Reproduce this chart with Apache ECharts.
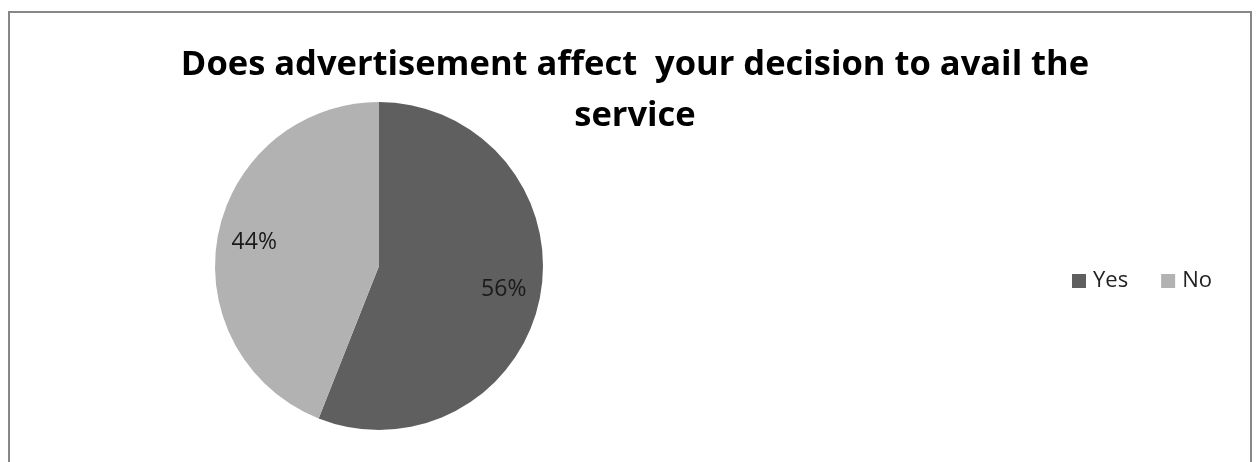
<!DOCTYPE html>
<html>
<head>
<meta charset="utf-8">
<script src="https://cdn.jsdelivr.net/npm/echarts@6/dist/echarts.min.js"></script>
<style>
  html, body { margin: 0; padding: 0; background: #ffffff; }
  #wrap { position: relative; width: 1256px; height: 462px; overflow: hidden; }
  #frame { position: absolute; left: 8px; top: 11px; width: 1244px; height: 470px;
           border: 2px solid #878787; box-sizing: border-box; }
  #chart { position: absolute; left: 0; top: 0; width: 1256px; height: 462px; }
</style>
</head>
<body>
<div id="wrap">
  <div id="frame"></div>
  <div id="chart"></div>
</div>
<script>
// Survey answers and their shares (percent)
const titleLines = ['Does advertisement affect  your decision to avail the', 'service'];
const categories = ['Yes', 'No'];
const shares = [56, 44];
const sliceColors = ['#5f5f5f', '#b2b2b2'];

const pieData = categories.map((name, i) => ({ name: name, value: shares[i] }));

const chart = echarts.init(document.getElementById('chart'), null, { renderer: 'canvas' });

chart.setOption({
  animation: false,
  color: sliceColors,
  title: {
    text: titleLines.join('\n'),
    left: 630,
    textAlign: 'center',
    top: 35,
    textStyle: {
      fontFamily: 'Open Sans',
      fontWeight: 'bold',
      fontSize: 34.5,
      lineHeight: 51,
      color: '#000000'
    }
  },
  legend: {
    data: categories,
    orient: 'horizontal',
    left: 1072,
    top: 270,
    padding: 0,
    icon: 'rect',
    itemWidth: 14,
    itemHeight: 14,
    itemGap: 33,
    textStyle: {
      fontFamily: 'Open Sans',
      fontSize: 22,
      lineHeight: 22,
      color: '#222222',
      padding: [0, 0, 0, 2]
    }
  },
  series: [
    {
      type: 'pie',
      center: [379, 266],
      radius: [0, 164],
      startAngle: 90,
      clockwise: true,
      silent: true,
      data: pieData,
      label: { show: false },
      labelLine: { show: false },
      itemStyle: { borderWidth: 0 }
    },
    {
      // ring only carries the percentage labels, placed at three quarters of the radius
      type: 'pie',
      center: [379, 266],
      radius: [84, 164],
      startAngle: 90,
      clockwise: true,
      silent: true,
      data: pieData,
      itemStyle: { color: 'rgba(0,0,0,0)', borderWidth: 0 },
      label: {
        show: true,
        position: 'inside',
        formatter: p => p.value + '%',
        fontFamily: 'Open Sans',
        fontSize: 23,
        color: '#1a1a1a'
      },
      labelLine: { show: false }
    }
  ]
});
</script>
</body>
</html>
